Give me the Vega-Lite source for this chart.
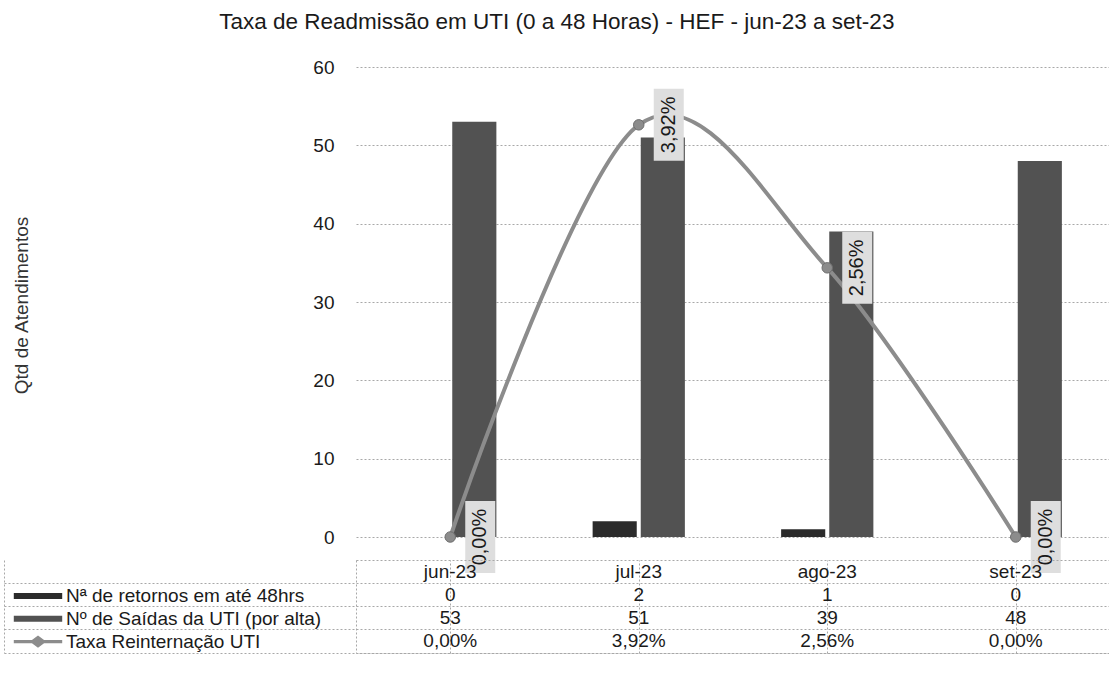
{
  "$schema": "https://vega.github.io/schema/vega-lite/v6.json",
  "padding": {"left": 3, "top": 10, "right": 0, "bottom": 0},
  "background": "white",
  "config": {
    "font": "Liberation Sans",
    "view": {"stroke": null},
    "locale": {"number": {"decimal": ",", "thousands": ".", "grouping": [3], "currency": ["R$", ""]}}
  },
  "title": {
    "text": "Taxa de Readmissão em UTI (0 a 48 Horas) - HEF - jun-23 a set-23",
    "fontSize": 22.5, "fontWeight": "normal", "color": "#1a1a1a",
    "anchor": "middle", "frame": "bounds", "offset": 25
  },
  "data": {"values": [
    {"mes": "jun-23", "retornos": 0, "saidas": 53, "taxa": 0},
    {"mes": "jul-23", "retornos": 2, "saidas": 51, "taxa": 0.0392},
    {"mes": "ago-23", "retornos": 1, "saidas": 39, "taxa": 0.0256},
    {"mes": "set-23", "retornos": 0, "saidas": 48, "taxa": 0}
  ]},
  "bounds": "flush",
  "spacing": 23,
  "vconcat": [
    {
      "width": 754,
      "height": 470,
      "resolve": {"scale": {"y": "independent"}},
      "encoding": {
        "x": {"field": "mes", "type": "nominal", "sort": null,
          "scale": {"domain": ["jun-23", "jul-23", "ago-23", "set-23"], "paddingInner": 0, "paddingOuter": 0},
          "axis": null}
      },
      "layer": [
        {
          "transform": [{"fold": ["retornos", "saidas"], "as": ["serie", "valor"]}],
          "mark": {"type": "bar"},
          "encoding": {
            "xOffset": {"field": "serie", "type": "nominal",
              "scale": {"domain": ["retornos", "saidas"], "paddingInner": 0.0833, "paddingOuter": 1.01}},
            "y": {"field": "valor", "type": "quantitative",
              "scale": {"domain": [0, 60], "nice": false},
              "axis": {"values": [0, 10, 20, 30, 40, 50, 60], "grid": true, "gridColor": "#a8a8a8", "gridDash": [2, 2],
                "domain": false, "ticks": false, "labelFontSize": 19, "labelColor": "#1a1a1a", "labelPadding": 22,
                "title": "Qtd de Atendimentos", "titleFontSize": 19, "titleFontWeight": "normal", "titleColor": "#333",
                "titleX": -335, "titleY": 238, "titleBaseline": "middle", "titleAlign": "center"}},
            "color": {"field": "serie", "type": "nominal",
              "scale": {"domain": ["retornos", "saidas", "taxa"], "range": ["#2b2b2b", "#525252", "#8c8c8c"]},
              "legend": {
                "title": null, "orient": "none", "legendX": -329, "legendY": 518,
                "direction": "vertical", "padding": 0,
                "symbolSize": 484, "symbolType": "M-2.2,-0.27H2.2V0.27H-2.2Z",
                "labelOffset": 17, "labelFontSize": 19, "labelColor": "#1a1a1a", "labelLimit": 500,
                "rowPadding": 1.8,
                "labelExpr": "datum.value == 'retornos' ? 'Nª de retornos em até 48hrs' : datum.value == 'saidas' ? 'Nº de Saídas da UTI (por alta)' : 'Taxa Reinternação UTI'",
                "encode": {"symbols": {"update": {
                  "shape": {"signal": "datum.value == 'taxa' ? 'M-2.2,-0.14H-0.55L0,-0.55L0.55,-0.14H2.2V0.14H0.55L0,0.55L-0.55,0.14H-2.2Z' : 'M-2.2,-0.27H2.2V0.27H-2.2Z'"},
                  "fill": {"signal": "datum.value == 'retornos' ? '#2b2b2b' : datum.value == 'saidas' ? '#525252' : '#8c8c8c'"},
                  "strokeWidth": {"value": 0}
                }}}
              }}
          }
        },
        {
          "encoding": {
            "y": {"field": "taxa", "type": "quantitative", "scale": {"domain": [0, 0.0447], "nice": false, "zero": true}, "axis": null}
          },
          "layer": [
            {"mark": {"type": "line", "interpolate": "cardinal", "strokeWidth": 4},
             "encoding": {"color": {"datum": "taxa", "type": "nominal"}}},
            {"mark": {"type": "point", "filled": true, "size": 110, "opacity": 1, "color": "#8c8c8c", "stroke": "#6e6e6e", "strokeWidth": 1}},
            {"mark": {"type": "point", "filled": true, "opacity": 1, "color": "#dedede", "size": 5184, "xOffset": 30,
              "shape": "M-0.4167,-1H0.4167V1H-0.4167Z"}},
            {"mark": {"type": "text", "angle": 270, "xOffset": 30, "fontSize": 20, "color": "#1a1a1a", "align": "center", "baseline": "middle"},
             "encoding": {"text": {"field": "taxa", "type": "quantitative", "format": ".2%"}}}
          ]
        }
      ]
    },
    {
      "width": 754,
      "height": 93,
      "view": {"stroke": "#a8a8a8", "strokeDash": [2, 2]},
      "encoding": {
        "x": {"field": "mes", "type": "nominal", "sort": null,
          "scale": {"domain": ["jun-23", "jul-23", "ago-23", "set-23"], "paddingInner": 0, "paddingOuter": 0},
          "axis": {"title": null, "labels": false, "ticks": false, "domain": false, "grid": true, "bandPosition": 0,
            "gridColor": "#a8a8a8", "gridDash": [2, 2]}},
        "y": {"datum": "h", "type": "nominal",
          "scale": {"type": "band", "domain": ["h", "r", "s", "t"], "paddingInner": 0, "paddingOuter": 0},
          "axis": {"title": null, "labels": false, "ticks": true, "tickSize": -352, "offset": 352, "bandPosition": 1,
            "tickColor": "#a8a8a8", "tickDash": [2, 2], "domain": true, "domainColor": "#a8a8a8", "domainDash": [2, 2],
            "grid": true, "gridColor": "#a8a8a8", "gridDash": [2, 2]}}
      },
      "layer": [
        {"mark": {"type": "text", "fontSize": 19, "color": "#1a1a1a"},
         "encoding": {"y": {"datum": "h", "type": "nominal"}, "text": {"field": "mes", "type": "nominal"}}},
        {"mark": {"type": "text", "fontSize": 19, "color": "#1a1a1a"},
         "encoding": {"y": {"datum": "r", "type": "nominal"}, "text": {"field": "retornos", "type": "quantitative"}}},
        {"mark": {"type": "text", "fontSize": 19, "color": "#1a1a1a"},
         "encoding": {"y": {"datum": "s", "type": "nominal"}, "text": {"field": "saidas", "type": "quantitative"}}},
        {"mark": {"type": "text", "fontSize": 19, "color": "#1a1a1a"},
         "encoding": {"y": {"datum": "t", "type": "nominal"}, "text": {"field": "taxa", "type": "quantitative", "format": ".2%"}}}
      ]
    }
  ]
}
